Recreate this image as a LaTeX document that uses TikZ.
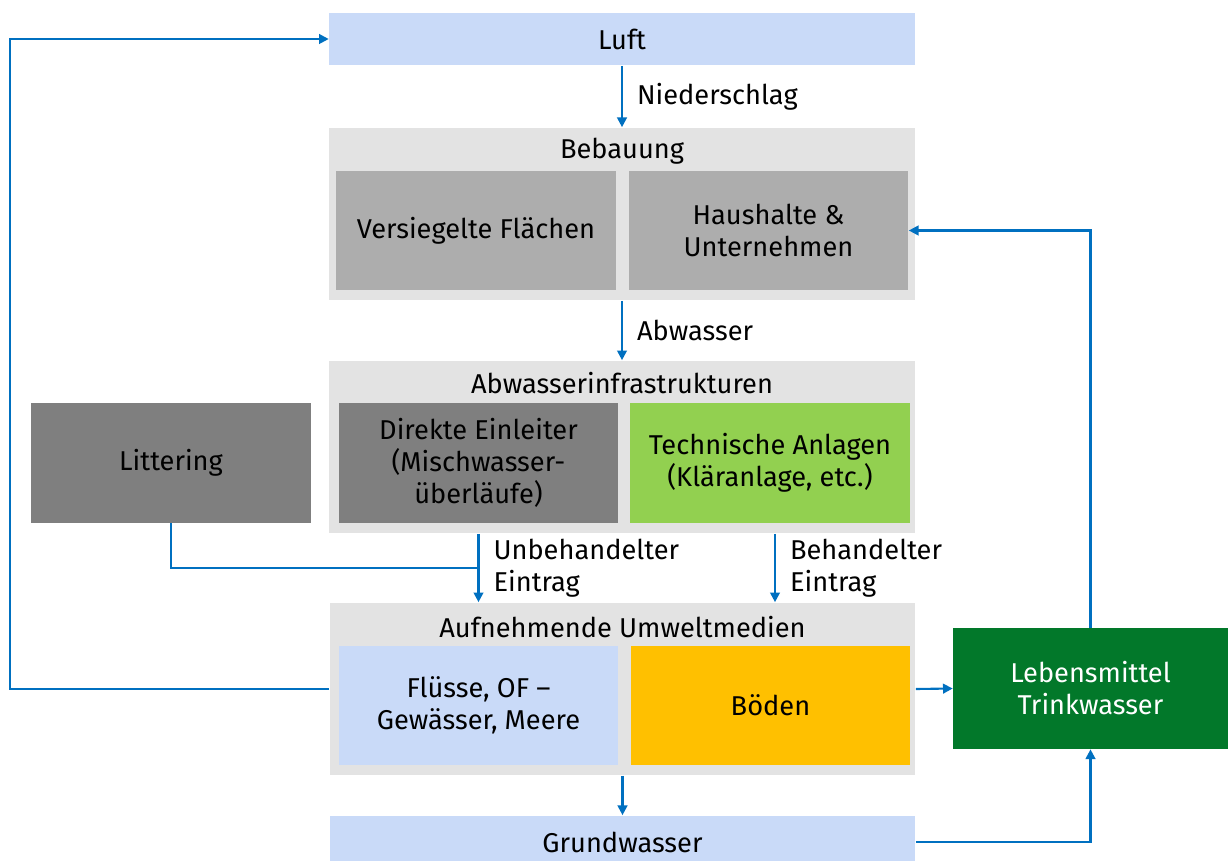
\documentclass[tikz,border=0pt]{standalone}
\usepackage{fontspec}
\setmainfont{Fira Sans}
\usetikzlibrary{arrows.meta, positioning, calc}
\definecolor{luftblau}{HTML}{C9DAF8}
\definecolor{rahmengrau}{HTML}{E3E3E3}
\definecolor{mittelgrau}{HTML}{ADADAD}
\definecolor{dunkelgrau}{HTML}{7F7F7F}
\definecolor{hellgruen}{HTML}{92D050}
\definecolor{orange}{HTML}{FFC000}
\definecolor{dunkelgruen}{HTML}{02782A}
\definecolor{pfeilblau}{HTML}{0070C0}

\begin{document}
\begin{tikzpicture}[
  x=0.02cm, y=-0.02cm,
  txt/.style={font=\fontsize{15.5}{18.2}\selectfont, align=center, text=black},
  band/.style={txt, fill=luftblau, minimum width=11.72cm, minimum height=1.06cm, inner sep=0pt},
  group/.style={fill=rahmengrau, minimum width=11.72cm, minimum height=3.46cm, inner sep=0pt},
  box/.style={txt, minimum width=5.6cm, minimum height=2.4cm, inner sep=2pt},
  lab/.style={txt, right, align=left, inner sep=0pt, xshift=0.28cm},
  line/.style={pfeilblau, line width=1.2pt},
  arr/.style={line, -{Triangle[width=5.5pt, length=5.5pt]}}
]
\useasboundingbox (0,0) rectangle (1230,861);

\node[band] (luft) at (622,39) {Luft};

\node[group] (bebauung) at (622,214) {};
\node[txt] at (622,151) {Bebauung};
\node[box, fill=mittelgrau] (versiegelt) at (476,230.5) {Versiegelte Flächen};
\node[box, fill=mittelgrau] (haus) at (768.5,230.5) {Haushalte \&\\Unternehmen};

\node[group] (abwinf) at (622,447) {};
\node[txt] at (622,383) {Abwasserinfrastrukturen};
\node[box, fill=dunkelgrau] (direkt) at (478.5,463) {Direkte Einleiter\\(Mischwasser-\\überläufe)};
\node[box, fill=hellgruen] (technik) at (770,463) {Technische Anlagen\\(Kläranlage, etc.)};

\node[box, fill=dunkelgrau] (littering) at (171,463) {Littering};

\node[group] (aufn) at (622.5,689) {};
\node[txt] at (622.5,627) {Aufnehmende Umweltmedien};
\node[box, fill=luftblau] (fluesse) at (478.5,705.5) {Flüsse, OF --\\Gewässer, Meere};
\node[box, fill=orange] (boeden) at (770.5,705.5) {Böden};

\node[band] (grund) at (622.5,842) {Grundwasser};

\node[box, fill=dunkelgruen, text=white, minimum width=5.5cm, minimum height=2.42cm] (leben) at (1090.5,688.5) {Lebensmittel\\Trinkwasser};

\draw[arr] (luft) -- node[lab] {Niederschlag} (bebauung);
\draw[arr] (bebauung) -- node[lab] {Abwasser} (abwinf);
\draw[arr] (abwinf.south -| direkt) -- node[lab] {Unbehandelter\\Eintrag} (aufn.north -| direkt);
\draw[arr] ([xshift=0.1cm]abwinf.south -| technik) -- node[lab] {Behandelter\\Eintrag} ([xshift=0.1cm]aufn.north -| technik);
\draw[line] (littering.south) |- ($(abwinf.south -| direkt)!0.5!(aufn.north -| direkt)$);
\draw[arr] (aufn) -- (grund);
\draw[arr] (aufn.east) -- (leben.west);
\draw[arr] (grund.east) -| (leben.south);
\draw[arr] (leben.north) |- (haus.east);
\draw[arr] (aufn.west) -- ++(-319,0) |- (luft.west);
\end{tikzpicture}
\end{document}
